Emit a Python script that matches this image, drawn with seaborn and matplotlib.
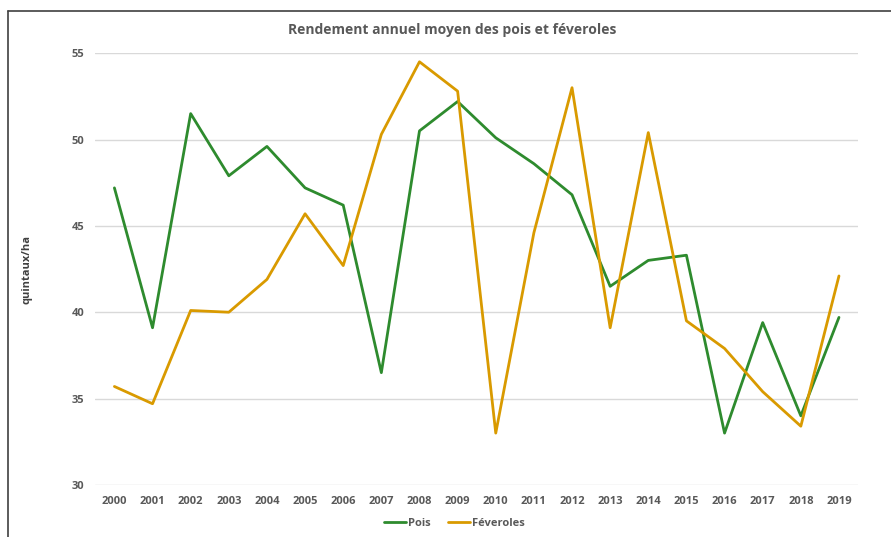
import matplotlib
matplotlib.use("Agg")
import matplotlib.pyplot as plt
import seaborn as sns
import pandas as pd
from matplotlib.lines import Line2D

years = list(range(2000, 2020))
pois = [47.2, 39.1, 51.5, 47.9, 49.6, 47.2, 46.2, 36.5, 50.5, 52.2,
        50.1, 48.6, 46.8, 41.5, 43.0, 43.3, 33.0, 39.4, 34.0, 39.7]
feveroles = [35.7, 34.7, 40.1, 40.0, 41.9, 45.7, 42.7, 50.3, 54.5, 52.8,
             33.0, 44.6, 53.0, 39.1, 50.4, 39.5, 37.9, 35.4, 33.4, 42.1]

df = pd.DataFrame({"Année": years * 2,
                   "Rendement": pois + feveroles,
                   "Culture": ["Pois"] * 20 + ["Féveroles"] * 20})

sns.set_style("white")
plt.rcParams['font.family'] = ['Open Sans', 'DejaVu Sans']

fig = plt.figure(figsize=(8.91, 5.37), dpi=100)
ax = fig.add_axes([0.107, 0.097, 0.856, 0.804])

sns.lineplot(data=df, x="Année", y="Rendement", hue="Culture",
             palette={"Pois": "#2e8b2e", "Féveroles": "#d99a00"},
             linewidth=2, ax=ax, legend=False)

ax.set_xlim(1999.5, 2019.5)
ax.set_ylim(30, 55)
ax.set_yticks([30, 35, 40, 45, 50, 55])
ax.set_xticks(years)
ax.yaxis.grid(True, color="#d9d9d9", linewidth=1)
ax.set_axisbelow(True)
for s in ax.spines.values():
    s.set_visible(False)
ax.tick_params(length=0, labelsize=8, labelcolor="#595959", pad=8)
for lbl in ax.get_xticklabels() + ax.get_yticklabels():
    lbl.set_fontweight("bold")
ax.set_xlabel("")
ax.set_ylabel("quintaux/ha", fontsize=8, color="#404040", fontweight="bold", labelpad=28)

fig.suptitle("Rendement annuel moyen des pois et féveroles", x=0.507, y=1 - 30 / 537,
             va="center", fontsize=10, color="#595959", fontweight="bold")

handles = [Line2D([], [], color="#2e8b2e", lw=2), Line2D([], [], color="#d99a00", lw=2)]
leg = fig.legend(handles, ["Pois", "Féveroles"], loc="center", bbox_to_anchor=(0.51, 0.025),
                 ncol=2, frameon=False, fontsize=8, handlelength=2, handletextpad=0.2,
                 columnspacing=1.5)
for t in leg.get_texts():
    t.set_color("#595959")
    t.set_fontweight("bold")

# outer frame of the original screenshot
fig.add_artist(Line2D([8 / 891, 8 / 891], [0, 1 - 11 / 537], transform=fig.transFigure,
                      color="#404040", lw=1.2))
fig.add_artist(Line2D([8 / 891, 1], [1 - 11 / 537, 1 - 11 / 537], transform=fig.transFigure,
                      color="#404040", lw=1.2))

fig.savefig("out.png", dpi=100)
